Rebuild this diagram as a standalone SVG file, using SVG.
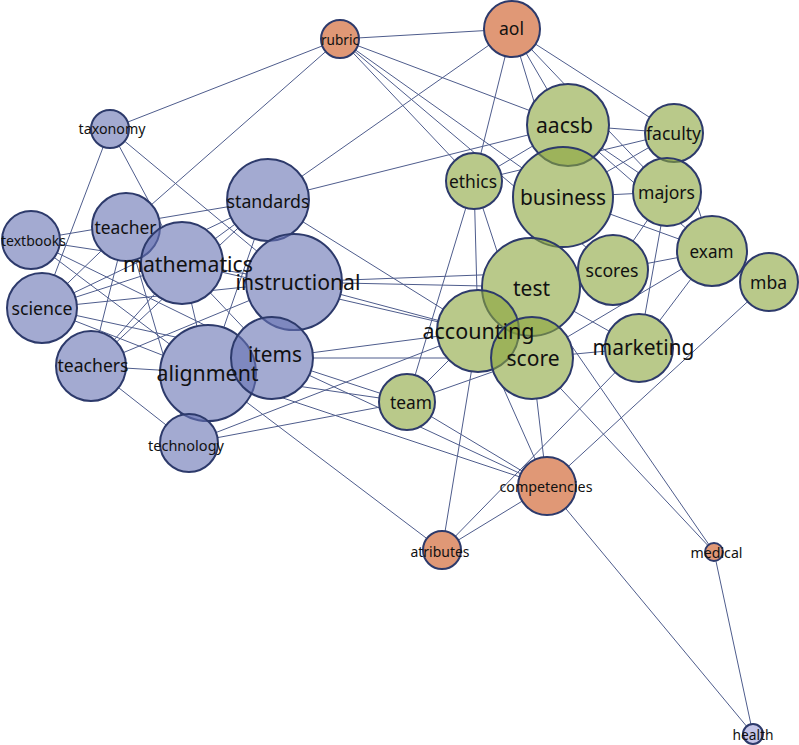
<svg xmlns="http://www.w3.org/2000/svg" width="799" height="745" viewBox="0 0 799 745">
<style>
.e line{stroke:#4e5c8c;stroke-width:1;fill:none}
.n circle{stroke:#2d3a6b;stroke-width:2;fill-opacity:0.6}
.b circle{fill:#6671b2}
.g circle{fill:#8aa53c}
.o circle{fill:#cb531b}
.h circle{fill:#c4c5e8;fill-opacity:1}
text{font-family:"Noto Sans","Open Sans","DejaVu Sans",sans-serif;fill:#111;text-anchor:middle}
.s{font-size:14.5px}.m{font-size:18.5px}.l{font-size:22px}
</style>
<defs>
<mask id="hole" maskUnits="userSpaceOnUse" x="0" y="0" width="799" height="745">
<rect x="0" y="0" width="799" height="745" fill="#fff"/>
<g fill="#000">
<circle cx="340" cy="39" r="19"/><circle cx="512" cy="29" r="28"/><circle cx="110" cy="129" r="19"/>
<circle cx="268" cy="200" r="41"/><circle cx="126" cy="227" r="34"/><circle cx="31" cy="240" r="29"/>
<circle cx="182" cy="263" r="41"/><circle cx="294" cy="282" r="48"/><circle cx="42" cy="308" r="35"/>
<circle cx="91" cy="366" r="35"/><circle cx="208" cy="373" r="48"/><circle cx="272" cy="358" r="41"/>
<circle cx="189" cy="443" r="29"/><circle cx="407" cy="402" r="28"/><circle cx="568" cy="125" r="41"/>
<circle cx="674" cy="133" r="29"/><circle cx="474" cy="181" r="28"/><circle cx="563" cy="197" r="50"/>
<circle cx="667" cy="192" r="34"/><circle cx="712" cy="251" r="35"/><circle cx="769" cy="282" r="29"/>
<circle cx="613" cy="270" r="35"/><circle cx="531" cy="287" r="49"/><circle cx="478" cy="331" r="41"/>
<circle cx="532" cy="358" r="41"/><circle cx="639" cy="348" r="34"/><circle cx="547" cy="486" r="29"/>
<circle cx="442" cy="550" r="19"/><circle cx="714" cy="552" r="9"/><circle cx="753" cy="734" r="10"/>
</g>
</mask>
</defs>
<rect x="0" y="0" width="799" height="745" fill="#fff"/>
<g id="connectors" class="e" mask="url(#hole)">
<line x1="340" y1="39" x2="512" y2="29"/>
<line x1="340" y1="39" x2="110" y2="129"/>
<line x1="340" y1="39" x2="126" y2="227"/>
<line x1="340" y1="39" x2="568" y2="125"/>
<line x1="340" y1="39" x2="563" y2="197"/>
<line x1="340" y1="39" x2="474" y2="181"/>
<line x1="340" y1="39" x2="613" y2="270"/>
<line x1="512" y1="29" x2="268" y2="200"/>
<line x1="512" y1="29" x2="474" y2="181"/>
<line x1="512" y1="29" x2="568" y2="125"/>
<line x1="512" y1="29" x2="563" y2="197"/>
<line x1="512" y1="29" x2="667" y2="192"/>
<line x1="512" y1="29" x2="674" y2="133"/>
<line x1="110" y1="129" x2="42" y2="308"/>
<line x1="110" y1="129" x2="182" y2="263"/>
<line x1="110" y1="129" x2="294" y2="282"/>
<line x1="31" y1="240" x2="268" y2="200"/>
<line x1="126" y1="227" x2="42" y2="308"/>
<line x1="126" y1="227" x2="91" y2="366"/>
<line x1="126" y1="227" x2="189" y2="443"/>
<line x1="31" y1="240" x2="182" y2="263"/>
<line x1="31" y1="240" x2="208" y2="373"/>
<line x1="31" y1="240" x2="272" y2="358"/>
<line x1="42" y1="308" x2="182" y2="263"/>
<line x1="42" y1="308" x2="268" y2="200"/>
<line x1="42" y1="308" x2="272" y2="358"/>
<line x1="42" y1="308" x2="208" y2="373"/>
<line x1="42" y1="308" x2="294" y2="282"/>
<line x1="91" y1="366" x2="182" y2="263"/>
<line x1="91" y1="366" x2="268" y2="200"/>
<line x1="91" y1="366" x2="294" y2="282"/>
<line x1="91" y1="366" x2="208" y2="373"/>
<line x1="91" y1="366" x2="189" y2="443"/>
<line x1="182" y1="263" x2="268" y2="200"/>
<line x1="182" y1="263" x2="294" y2="282"/>
<line x1="182" y1="263" x2="208" y2="373"/>
<line x1="182" y1="263" x2="272" y2="358"/>
<line x1="182" y1="263" x2="478" y2="331"/>
<line x1="268" y1="200" x2="208" y2="373"/>
<line x1="268" y1="200" x2="568" y2="125"/>
<line x1="268" y1="200" x2="478" y2="331"/>
<line x1="294" y1="282" x2="531" y2="287"/>
<line x1="294" y1="282" x2="613" y2="270"/>
<line x1="294" y1="282" x2="478" y2="331"/>
<line x1="294" y1="282" x2="208" y2="373"/>
<line x1="208" y1="373" x2="407" y2="402"/>
<line x1="208" y1="373" x2="547" y2="486"/>
<line x1="208" y1="373" x2="442" y2="550"/>
<line x1="272" y1="358" x2="407" y2="402"/>
<line x1="272" y1="358" x2="478" y2="331"/>
<line x1="272" y1="358" x2="532" y2="358"/>
<line x1="272" y1="358" x2="547" y2="486"/>
<line x1="189" y1="443" x2="478" y2="331"/>
<line x1="189" y1="443" x2="407" y2="402"/>
<line x1="474" y1="181" x2="407" y2="402"/>
<line x1="474" y1="181" x2="478" y2="331"/>
<line x1="474" y1="181" x2="532" y2="358"/>
<line x1="474" y1="181" x2="568" y2="125"/>
<line x1="474" y1="181" x2="674" y2="133"/>
<line x1="568" y1="125" x2="674" y2="133"/>
<line x1="568" y1="125" x2="667" y2="192"/>
<line x1="568" y1="125" x2="712" y2="251"/>
<line x1="563" y1="197" x2="674" y2="133"/>
<line x1="563" y1="197" x2="667" y2="192"/>
<line x1="563" y1="197" x2="712" y2="251"/>
<line x1="674" y1="133" x2="712" y2="251"/>
<line x1="667" y1="192" x2="613" y2="270"/>
<line x1="667" y1="192" x2="639" y2="348"/>
<line x1="712" y1="251" x2="613" y2="270"/>
<line x1="712" y1="251" x2="639" y2="348"/>
<line x1="712" y1="251" x2="532" y2="358"/>
<line x1="531" y1="287" x2="639" y2="348"/>
<line x1="407" y1="402" x2="532" y2="358"/>
<line x1="407" y1="402" x2="478" y2="331"/>
<line x1="532" y1="358" x2="639" y2="348"/>
<line x1="407" y1="402" x2="547" y2="486"/>
<line x1="478" y1="331" x2="547" y2="486"/>
<line x1="532" y1="358" x2="547" y2="486"/>
<line x1="478" y1="331" x2="442" y2="550"/>
<line x1="639" y1="348" x2="442" y2="550"/>
<line x1="547" y1="486" x2="442" y2="550"/>
<line x1="769" y1="282" x2="547" y2="486"/>
<line x1="532" y1="358" x2="714" y2="552"/>
<line x1="531" y1="287" x2="714" y2="552"/>
<line x1="714" y1="552" x2="753" y2="734"/>
<line x1="547" y1="486" x2="753" y2="734"/>
</g>
<g id="node-rubric" class="n o"><circle cx="340" cy="39" r="19"/></g>
<g id="node-aol" class="n o"><circle cx="512" cy="29" r="28"/></g>
<g id="node-taxonomy" class="n b"><circle cx="110" cy="129" r="19"/></g>
<g id="node-standards" class="n b"><circle cx="268" cy="200" r="41"/></g>
<g id="node-teacher" class="n b"><circle cx="126" cy="227" r="34"/></g>
<g id="node-textbooks" class="n b"><circle cx="31" cy="240" r="29"/></g>
<g id="node-mathematics" class="n b"><circle cx="182" cy="263" r="41"/></g>
<g id="node-instructional" class="n b"><circle cx="294" cy="282" r="48"/></g>
<g id="node-science" class="n b"><circle cx="42" cy="308" r="35"/></g>
<g id="node-teachers" class="n b"><circle cx="91" cy="366" r="35"/></g>
<g id="node-alignment" class="n b"><circle cx="208" cy="373" r="48"/></g>
<g id="node-items" class="n b"><circle cx="272" cy="358" r="41"/></g>
<g id="node-technology" class="n b"><circle cx="189" cy="443" r="29"/></g>
<g id="node-team" class="n g"><circle cx="407" cy="402" r="28"/></g>
<g id="node-aacsb" class="n g"><circle cx="568" cy="125" r="41"/></g>
<g id="node-faculty" class="n g"><circle cx="674" cy="133" r="29"/></g>
<g id="node-ethics" class="n g"><circle cx="474" cy="181" r="28"/></g>
<g id="node-business" class="n g"><circle cx="563" cy="197" r="50"/></g>
<g id="node-majors" class="n g"><circle cx="667" cy="192" r="34"/></g>
<g id="node-exam" class="n g"><circle cx="712" cy="251" r="35"/></g>
<g id="node-mba" class="n g"><circle cx="769" cy="282" r="29"/></g>
<g id="node-scores" class="n g"><circle cx="613" cy="270" r="35"/></g>
<g id="node-test" class="n g"><circle cx="531" cy="287" r="49"/></g>
<g id="node-accounting" class="n g"><circle cx="478" cy="331" r="41"/></g>
<g id="node-score" class="n g"><circle cx="532" cy="358" r="41"/></g>
<g id="node-marketing" class="n g"><circle cx="639" cy="348" r="34"/></g>
<g id="node-competencies" class="n o"><circle cx="547" cy="486" r="29"/></g>
<g id="node-atributes" class="n o"><circle cx="442" cy="550" r="19"/></g>
<g id="node-medical" class="n o"><circle cx="714" cy="552" r="9"/></g>
<g id="node-health" class="n h"><circle cx="753" cy="734" r="10"/></g>
<g id="labels">
<text class="s" x="340" y="44.5" textLength="38" lengthAdjust="spacingAndGlyphs">rubric</text>
<text class="m" x="511.5" y="34.5" textLength="25" lengthAdjust="spacingAndGlyphs">aol</text>
<text class="s" x="112" y="133.5" textLength="67" lengthAdjust="spacingAndGlyphs">taxonomy</text>
<text class="m" x="268" y="207.5" textLength="83" lengthAdjust="spacingAndGlyphs">standards</text>
<text class="m" x="125.5" y="233.5" textLength="62" lengthAdjust="spacingAndGlyphs">teacher</text>
<text class="s" x="33.5" y="245.5" textLength="65" lengthAdjust="spacingAndGlyphs">textbooks</text>
<text class="l" x="188" y="271.5" textLength="130" lengthAdjust="spacingAndGlyphs">mathematics</text>
<text class="l" x="298" y="290" textLength="125" lengthAdjust="spacingAndGlyphs">instructional</text>
<text class="m" x="42" y="314.5" textLength="61" lengthAdjust="spacingAndGlyphs">science</text>
<text class="m" x="93" y="372" textLength="71" lengthAdjust="spacingAndGlyphs">teachers</text>
<text class="l" x="207.5" y="380.5" textLength="102" lengthAdjust="spacingAndGlyphs">alignment</text>
<text class="l" x="275" y="362" textLength="54" lengthAdjust="spacingAndGlyphs">items</text>
<text class="s" x="186" y="451" textLength="76" lengthAdjust="spacingAndGlyphs">technology</text>
<text class="m" x="411" y="408.5" textLength="42" lengthAdjust="spacingAndGlyphs">team</text>
<text class="l" x="564.5" y="133" textLength="57" lengthAdjust="spacingAndGlyphs">aacsb</text>
<text class="m" x="673.5" y="140" textLength="55" lengthAdjust="spacingAndGlyphs">faculty</text>
<text class="m" x="473" y="187.5" textLength="48" lengthAdjust="spacingAndGlyphs">ethics</text>
<text class="l" x="563" y="205" textLength="86" lengthAdjust="spacingAndGlyphs">business</text>
<text class="m" x="666.5" y="199" textLength="57" lengthAdjust="spacingAndGlyphs">majors</text>
<text class="m" x="711.5" y="257.5" textLength="44" lengthAdjust="spacingAndGlyphs">exam</text>
<text class="m" x="768.5" y="288.5" textLength="37" lengthAdjust="spacingAndGlyphs">mba</text>
<text class="m" x="612" y="277" textLength="53" lengthAdjust="spacingAndGlyphs">scores</text>
<text class="l" x="531.5" y="296" textLength="37" lengthAdjust="spacingAndGlyphs">test</text>
<text class="l" x="478.5" y="338.5" textLength="112" lengthAdjust="spacingAndGlyphs">accounting</text>
<text class="l" x="533" y="366" textLength="53" lengthAdjust="spacingAndGlyphs">score</text>
<text class="l" x="643.5" y="355" textLength="102" lengthAdjust="spacingAndGlyphs">marketing</text>
<text class="s" x="546" y="492" textLength="93" lengthAdjust="spacingAndGlyphs">competencies</text>
<text class="s" x="440" y="557" textLength="59" lengthAdjust="spacingAndGlyphs">atributes</text>
<text class="s" x="716.5" y="557.5" textLength="52" lengthAdjust="spacingAndGlyphs">medical</text>
<text class="s" x="753" y="739.5" textLength="41" lengthAdjust="spacingAndGlyphs">health</text>
</g>
</svg>
